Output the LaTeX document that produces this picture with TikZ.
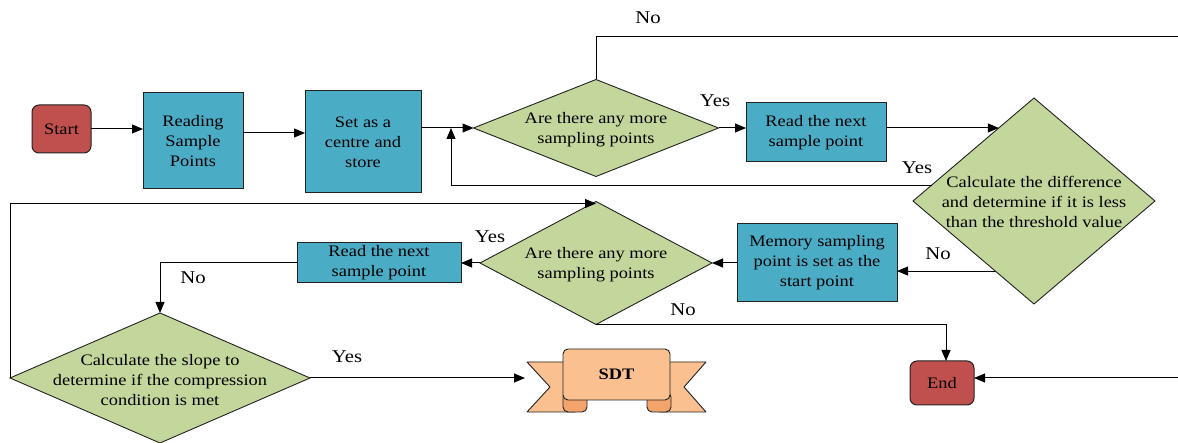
\documentclass[tikz,border=0pt]{standalone}
\usepackage{fontspec}
\setmainfont{Liberation Serif}[FakeStretch=1.15]
\usetikzlibrary{shapes.geometric,arrows.meta,calc}
\definecolor{termred}{HTML}{C0504D}
\definecolor{procblue}{HTML}{4BACC6}
\definecolor{diagreen}{HTML}{C3D69B}
\definecolor{peach}{HTML}{FAC090}
\definecolor{folddark}{HTML}{F2A46A}
\definecolor{edge}{HTML}{222222}
\tikzset{
  term/.style={draw=edge, fill=termred, rounded corners=7pt, line width=1pt, outer sep=0pt, font=\fontsize{16}{20}\selectfont},
  proc/.style={draw=edge, fill=procblue, line width=1pt, align=center, inner sep=0pt, outer sep=0pt, font=\fontsize{16}{20}\selectfont},
  dia/.style={diamond, draw=edge, fill=diagreen, inner sep=0pt, outer sep=0pt, line width=0.9pt},
  dtxt/.style={align=center, font=\fontsize{16}{20}\selectfont},
  lbl/.style={font=\fontsize{18}{20}\selectfont},
  arr/.style={-{Triangle[length=11pt,width=9pt]}, line width=1pt},
  ln/.style={line width=1pt},
  rib/.style={draw=edge, fill=peach, line width=0.9pt, line join=round},
  fold/.style={draw=edge, fill=folddark, line width=0.9pt, rounded corners=5pt}
}
\begin{document}
\begin{tikzpicture}[x=1pt,y=-1pt]
\useasboundingbox (0,0) rectangle (1178,443);

% terminals and processes
\node[term, minimum width=59pt, minimum height=48pt] (start) at (61.5,129) {Start};
\node[term, minimum width=64pt, minimum height=44pt] (end) at (942,383) {End};
\node[proc, minimum width=100pt, minimum height=96pt] (read) at (193,141) {Reading\\Sample\\Points};
\node[proc, minimum width=116pt, minimum height=102pt] (set) at (363,142) {Set as a\\centre and\\store};
\node[proc, minimum width=140pt, minimum height=59pt] (r1) at (816,132.5) {Read the next\\sample point};
\node[proc, minimum width=160pt, minimum height=78pt] (mem) at (817,263) {Memory sampling\\point is set as the\\start point};
\node[proc, minimum width=164pt, minimum height=40pt] (r2) at (379,263) {Read the next\\sample point};

% decisions
\node[dia, minimum width=245pt, minimum height=97pt] (d1) at (596,128) {};
\node[dtxt] (d1t) at (596,130) {Are there any more\\sampling points};
\node[dia, minimum width=242pt, minimum height=206pt] (d2) at (1034,201) {};
\node[dtxt] (d2t) at (1034,202) {Calculate the difference\\and determine if it is less\\than the threshold value};
\node[dia, minimum width=232pt, minimum height=123pt] (d3) at (596,263) {};
\node[dtxt] (d3t) at (596,265) {Are there any more\\sampling points};
\node[dia, minimum width=300pt, minimum height=130pt] (d4) at (160,378) {};
\node[dtxt] (d4t) at (160,380) {Calculate the slope to\\determine if the compression\\condition is met};

% SDT ribbon
\draw[rib] (527,362) -- (575,362) -- (575,412) -- (527,412) -- (550,387) -- cycle;
\draw[rib] (706,362) -- (659,362) -- (659,412) -- (706,412) -- (684,387) -- cycle;
\draw[fold] (563,392) rectangle (587,412);
\draw[fold] (647,392) rectangle (671,412);
\node[draw=edge, fill=peach, line width=0.9pt, rounded corners=5pt, minimum width=107pt, minimum height=51pt, outer sep=0pt, font=\fontsize{16}{20}\selectfont\bfseries] (sdt) at (616.5,374.5) {SDT};
\coordinate (sdtl) at (525,378);

% edge coordinates
\coordinate (edgetop) at (1178,37);
\coordinate (edgebot) at (1178,378);
\coordinate (loopx) at (451,0);
\coordinate (readout) at ($(read.east)+(0,-8)$);
\coordinate (d2yes) at ($(d2.west)!0.155!(d2.north)$);
\coordinate (d2in) at ($(d2.west)!0.709!(d2.north)$);
\coordinate (d2no) at ($(d2.west)!0.68!(d2.south)$);

% connectors
\draw[arr] (start.east) -- (start.east -| read.west);
\draw[arr] (readout) -- (readout -| set.west);
\draw[arr] (set.east |- d1.west) -- (d1.west);
\draw[arr] (d2yes) -- (d2yes -| loopx) -- (loopx |- d1.west);
\draw[ln] (d1.north) -- (d1.north |- edgetop) -- (edgetop);
\draw[arr] (d1.east) -- (d1.east -| r1.west);
\draw[arr] (r1.east |- d2in) -- (d2in);
\draw[arr] (d2no) -- (d2no -| mem.east);
\draw[arr] (mem.west) -- (d3.east);
\draw[arr] (d3.west) -- (r2.east);
\draw[arr] (r2.west) -| (d4.north);
\draw[arr] (d4.east) -- (sdtl);
\draw[arr] (d4.west) -- ($(d4.west |- d3.north)+(0,2)$) -- ($(d3.north)+(0,2)$);
\draw[arr] (d3.south) -| ($(end.north)+(4,0)$);
\draw[arr] (edgebot) -- (edgebot -| end.east);

% labels
\node[lbl] (lno1) at (648,18) {No};
\node[lbl] (lyes1) at (715,101) {Yes};
\node[lbl] (lyes2) at (917,168) {Yes};
\node[lbl] (lno2) at (938,254) {No};
\node[lbl] (lyes3) at (490,237) {Yes};
\node[lbl] (lno3) at (193,278) {No};
\node[lbl] (lyes4) at (347,357) {Yes};
\node[lbl] (lno4) at (683,310) {No};
\end{tikzpicture}
\end{document}
